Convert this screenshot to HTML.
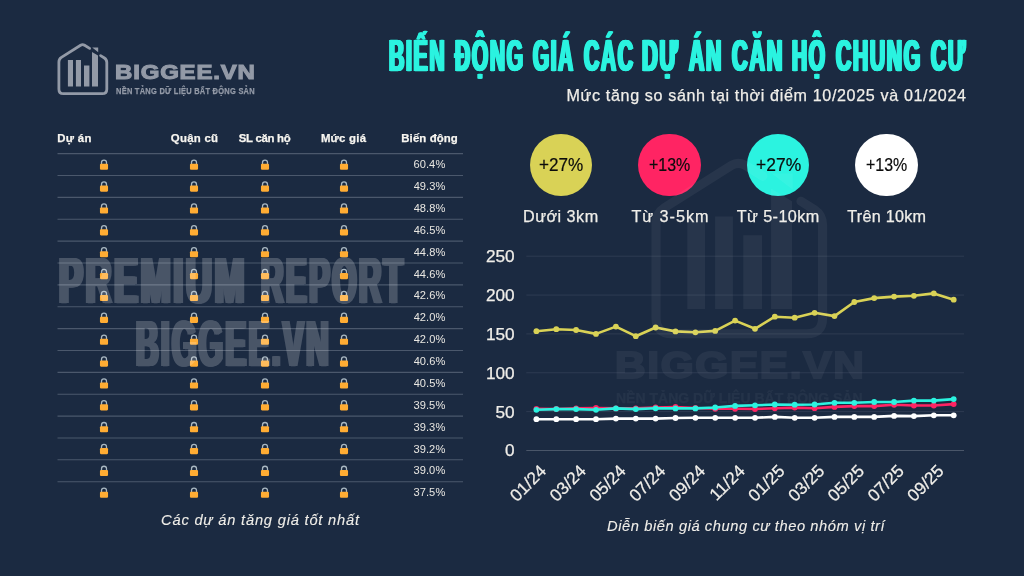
<!DOCTYPE html>
<html lang="vi">
<head>
<meta charset="utf-8">
<title>Biến động giá các dự án căn hộ chung cư</title>
<style>
html,body,header,h1,p,section,div{margin:0;padding:0}
body{width:1024px;height:576px;background:#1b2a41;position:relative;overflow:hidden;font-family:"Liberation Sans",sans-serif;color:#f0eee9}
.abs{position:absolute}
.t{position:absolute;white-space:nowrap;line-height:1;transform-origin:0 0;-webkit-text-stroke:0.25px currentColor}
.circ{position:absolute;width:62.5px;height:62.5px;border-radius:50%;top:133.75px}
.ax text{font-family:"Liberation Sans",sans-serif;font-size:17.2px;fill:#f0eee9;stroke:#f0eee9;stroke-width:0.25px}
</style>
</head>
<body>
<header>
<svg class="abs" style="left:54px;top:40px" width="60.0" height="60.0" viewBox="54 40 60 60">
<path d="M89.6 48.4 L84.6 45.3 Q82.6 44.1 80.6 45.3 L61.4 57.4 Q58.9 59 58.9 62 L58.9 89.2 Q58.9 93.7 63.4 93.7 L102.3 93.7 Q106.8 93.7 106.8 89.2 L106.8 62.5 Q106.8 59.6 104.4 58 L100.6 55.6" fill="none" stroke="#939aa7" stroke-width="2.8" stroke-linecap="round" stroke-linejoin="round"/>
<path d="M67.9 60 H73 V86.6 H67.9 Z M75.9 60 H81 V86.6 H75.9 Z M84 65.4 H89.4 V86.6 H84 Z M92 52 L98 55.6 V86.6 H92 Z M92.2 47.6 H98.2 V52.2 Z" fill="#939aa7"/>
</svg>
<span class="t" style="left:115.31px;top:62.00px;font-size:20.1px;font-weight:bold;color:#939aa7;-webkit-text-stroke:1.1px #939aa7;letter-spacing:0.7px;transform:scaleX(1.1931);">BIGGEE.VN</span>
<span class="t" style="left:115.98px;top:87.00px;font-size:8.9px;font-weight:bold;color:#939aa7;-webkit-text-stroke:0.25px #939aa7;letter-spacing:0.3px;transform:scaleX(0.8421);">NỀN TẢNG DỮ LIỆU BẤT ĐỘNG SẢN</span>
</header>
<h1>
<span class="t" style="left:388.66px;top:34.00px;font-size:44.4px;font-weight:bold;color:#2bf3e0;letter-spacing:3.5px;-webkit-text-stroke:0.5px #2bf3e0;text-shadow:1.5px 0 0 currentColor,-1.5px 0 0 currentColor,2.5px 0 0 currentColor,-2.5px 0 0 currentColor;transform:scaleX(0.4779);">BIẾN</span>
<span class="t" style="left:454.97px;top:34.00px;font-size:44.4px;font-weight:bold;color:#2bf3e0;letter-spacing:3.5px;-webkit-text-stroke:0.5px #2bf3e0;text-shadow:1.5px 0 0 currentColor,-1.5px 0 0 currentColor,2.5px 0 0 currentColor,-2.5px 0 0 currentColor;transform:scaleX(0.4734);">ĐỘNG</span>
<span class="t" style="left:533.15px;top:34.00px;font-size:44.4px;font-weight:bold;color:#2bf3e0;letter-spacing:3.5px;-webkit-text-stroke:0.5px #2bf3e0;text-shadow:1.5px 0 0 currentColor,-1.5px 0 0 currentColor,2.5px 0 0 currentColor,-2.5px 0 0 currentColor;transform:scaleX(0.4670);">GIÁ</span>
<span class="t" style="left:583.66px;top:34.00px;font-size:44.4px;font-weight:bold;color:#2bf3e0;letter-spacing:3.5px;-webkit-text-stroke:0.5px #2bf3e0;text-shadow:1.5px 0 0 currentColor,-1.5px 0 0 currentColor,2.5px 0 0 currentColor,-2.5px 0 0 currentColor;transform:scaleX(0.4751);">CÁC</span>
<span class="t" style="left:642.45px;top:34.00px;font-size:44.4px;font-weight:bold;color:#2bf3e0;letter-spacing:3.5px;-webkit-text-stroke:0.5px #2bf3e0;text-shadow:1.5px 0 0 currentColor,-1.5px 0 0 currentColor,2.5px 0 0 currentColor,-2.5px 0 0 currentColor;transform:scaleX(0.4926);">DỰ</span>
<span class="t" style="left:689.47px;top:34.00px;font-size:44.4px;font-weight:bold;color:#2bf3e0;letter-spacing:3.5px;-webkit-text-stroke:0.5px #2bf3e0;text-shadow:1.5px 0 0 currentColor,-1.5px 0 0 currentColor,2.5px 0 0 currentColor,-2.5px 0 0 currentColor;transform:scaleX(0.4778);">ÁN</span>
<span class="t" style="left:732.07px;top:34.00px;font-size:44.4px;font-weight:bold;color:#2bf3e0;letter-spacing:3.5px;-webkit-text-stroke:0.5px #2bf3e0;text-shadow:1.5px 0 0 currentColor,-1.5px 0 0 currentColor,2.5px 0 0 currentColor,-2.5px 0 0 currentColor;transform:scaleX(0.4879);">CĂN</span>
<span class="t" style="left:792.47px;top:34.00px;font-size:44.4px;font-weight:bold;color:#2bf3e0;letter-spacing:3.5px;-webkit-text-stroke:0.5px #2bf3e0;text-shadow:1.5px 0 0 currentColor,-1.5px 0 0 currentColor,2.5px 0 0 currentColor,-2.5px 0 0 currentColor;transform:scaleX(0.4698);">HỘ</span>
<span class="t" style="left:835.96px;top:34.00px;font-size:44.4px;font-weight:bold;color:#2bf3e0;letter-spacing:3.5px;-webkit-text-stroke:0.5px #2bf3e0;text-shadow:1.5px 0 0 currentColor,-1.5px 0 0 currentColor,2.5px 0 0 currentColor,-2.5px 0 0 currentColor;transform:scaleX(0.4762);">CHUNG</span>
<span class="t" style="left:930.56px;top:34.00px;font-size:44.4px;font-weight:bold;color:#2bf3e0;letter-spacing:3.5px;-webkit-text-stroke:0.5px #2bf3e0;text-shadow:1.5px 0 0 currentColor,-1.5px 0 0 currentColor,2.5px 0 0 currentColor,-2.5px 0 0 currentColor;transform:scaleX(0.4739);">CƯ</span>
</h1>
<p><span class="t" style="left:566.55px;top:87.00px;font-size:16.1px;letter-spacing:0.644px;">Mức tăng so sánh tại thời điểm 10/2025 và 01/2024</span></p>
<section>
<div>
<span class="t" style="left:57.30px;top:133.00px;font-size:11.4px;font-weight:bold;color:#f7f5f0;letter-spacing:0.300px;">Dự án</span>
<span class="t" style="left:170.85px;top:133.00px;font-size:11.4px;font-weight:bold;color:#f7f5f0;letter-spacing:0.258px;">Quận cũ</span>
<span class="t" style="left:238.75px;top:133.00px;font-size:11.4px;font-weight:bold;color:#f7f5f0;letter-spacing:-0.281px;">SL căn hộ</span>
<span class="t" style="left:320.90px;top:133.00px;font-size:11.4px;font-weight:bold;color:#f7f5f0;letter-spacing:0.233px;">Mức giá</span>
<span class="t" style="left:401.30px;top:133.00px;font-size:11.4px;font-weight:bold;color:#f7f5f0;letter-spacing:0.100px;">Biến động</span>
</div>
<svg class="abs" style="left:0;top:0" width="512" height="576" viewBox="0 0 512 576">
<g stroke="#4b586c" stroke-width="1.1"><line x1="57.5" x2="463" y1="153.64" y2="153.64"/><line x1="57.5" x2="463" y1="175.51" y2="175.51"/><line x1="57.5" x2="463" y1="197.38" y2="197.38"/><line x1="57.5" x2="463" y1="219.25" y2="219.25"/><line x1="57.5" x2="463" y1="241.12" y2="241.12"/><line x1="57.5" x2="463" y1="262.99" y2="262.99"/><line x1="57.5" x2="463" y1="284.86" y2="284.86"/><line x1="57.5" x2="463" y1="306.73" y2="306.73"/><line x1="57.5" x2="463" y1="328.60" y2="328.60"/><line x1="57.5" x2="463" y1="350.47" y2="350.47"/><line x1="57.5" x2="463" y1="372.34" y2="372.34"/><line x1="57.5" x2="463" y1="394.21" y2="394.21"/><line x1="57.5" x2="463" y1="416.08" y2="416.08"/><line x1="57.5" x2="463" y1="437.95" y2="437.95"/><line x1="57.5" x2="463" y1="459.82" y2="459.82"/><line x1="57.5" x2="463" y1="481.69" y2="481.69"/></g>
<g transform="translate(104 164.57)"><path d="M-2.5 0V-2A2.5 2.5 0 0 1 2.5 -2V0" fill="none" stroke="#aab8c2" stroke-width="1.3"/><rect x="-4.05" y="-.85" width="8.1" height="6.1" rx="1.1" fill="#ffac33"/></g>
<g transform="translate(194 164.57)"><path d="M-2.5 0V-2A2.5 2.5 0 0 1 2.5 -2V0" fill="none" stroke="#aab8c2" stroke-width="1.3"/><rect x="-4.05" y="-.85" width="8.1" height="6.1" rx="1.1" fill="#ffac33"/></g>
<g transform="translate(265 164.57)"><path d="M-2.5 0V-2A2.5 2.5 0 0 1 2.5 -2V0" fill="none" stroke="#aab8c2" stroke-width="1.3"/><rect x="-4.05" y="-.85" width="8.1" height="6.1" rx="1.1" fill="#ffac33"/></g>
<g transform="translate(344 164.57)"><path d="M-2.5 0V-2A2.5 2.5 0 0 1 2.5 -2V0" fill="none" stroke="#aab8c2" stroke-width="1.3"/><rect x="-4.05" y="-.85" width="8.1" height="6.1" rx="1.1" fill="#ffac33"/></g>
<g transform="translate(104 186.44)"><path d="M-2.5 0V-2A2.5 2.5 0 0 1 2.5 -2V0" fill="none" stroke="#aab8c2" stroke-width="1.3"/><rect x="-4.05" y="-.85" width="8.1" height="6.1" rx="1.1" fill="#ffac33"/></g>
<g transform="translate(194 186.44)"><path d="M-2.5 0V-2A2.5 2.5 0 0 1 2.5 -2V0" fill="none" stroke="#aab8c2" stroke-width="1.3"/><rect x="-4.05" y="-.85" width="8.1" height="6.1" rx="1.1" fill="#ffac33"/></g>
<g transform="translate(265 186.44)"><path d="M-2.5 0V-2A2.5 2.5 0 0 1 2.5 -2V0" fill="none" stroke="#aab8c2" stroke-width="1.3"/><rect x="-4.05" y="-.85" width="8.1" height="6.1" rx="1.1" fill="#ffac33"/></g>
<g transform="translate(344 186.44)"><path d="M-2.5 0V-2A2.5 2.5 0 0 1 2.5 -2V0" fill="none" stroke="#aab8c2" stroke-width="1.3"/><rect x="-4.05" y="-.85" width="8.1" height="6.1" rx="1.1" fill="#ffac33"/></g>
<g transform="translate(104 208.31)"><path d="M-2.5 0V-2A2.5 2.5 0 0 1 2.5 -2V0" fill="none" stroke="#aab8c2" stroke-width="1.3"/><rect x="-4.05" y="-.85" width="8.1" height="6.1" rx="1.1" fill="#ffac33"/></g>
<g transform="translate(194 208.31)"><path d="M-2.5 0V-2A2.5 2.5 0 0 1 2.5 -2V0" fill="none" stroke="#aab8c2" stroke-width="1.3"/><rect x="-4.05" y="-.85" width="8.1" height="6.1" rx="1.1" fill="#ffac33"/></g>
<g transform="translate(265 208.31)"><path d="M-2.5 0V-2A2.5 2.5 0 0 1 2.5 -2V0" fill="none" stroke="#aab8c2" stroke-width="1.3"/><rect x="-4.05" y="-.85" width="8.1" height="6.1" rx="1.1" fill="#ffac33"/></g>
<g transform="translate(344 208.31)"><path d="M-2.5 0V-2A2.5 2.5 0 0 1 2.5 -2V0" fill="none" stroke="#aab8c2" stroke-width="1.3"/><rect x="-4.05" y="-.85" width="8.1" height="6.1" rx="1.1" fill="#ffac33"/></g>
<g transform="translate(104 230.19)"><path d="M-2.5 0V-2A2.5 2.5 0 0 1 2.5 -2V0" fill="none" stroke="#aab8c2" stroke-width="1.3"/><rect x="-4.05" y="-.85" width="8.1" height="6.1" rx="1.1" fill="#ffac33"/></g>
<g transform="translate(194 230.19)"><path d="M-2.5 0V-2A2.5 2.5 0 0 1 2.5 -2V0" fill="none" stroke="#aab8c2" stroke-width="1.3"/><rect x="-4.05" y="-.85" width="8.1" height="6.1" rx="1.1" fill="#ffac33"/></g>
<g transform="translate(265 230.19)"><path d="M-2.5 0V-2A2.5 2.5 0 0 1 2.5 -2V0" fill="none" stroke="#aab8c2" stroke-width="1.3"/><rect x="-4.05" y="-.85" width="8.1" height="6.1" rx="1.1" fill="#ffac33"/></g>
<g transform="translate(344 230.19)"><path d="M-2.5 0V-2A2.5 2.5 0 0 1 2.5 -2V0" fill="none" stroke="#aab8c2" stroke-width="1.3"/><rect x="-4.05" y="-.85" width="8.1" height="6.1" rx="1.1" fill="#ffac33"/></g>
<g transform="translate(104 252.06)"><path d="M-2.5 0V-2A2.5 2.5 0 0 1 2.5 -2V0" fill="none" stroke="#aab8c2" stroke-width="1.3"/><rect x="-4.05" y="-.85" width="8.1" height="6.1" rx="1.1" fill="#ffac33"/></g>
<g transform="translate(194 252.06)"><path d="M-2.5 0V-2A2.5 2.5 0 0 1 2.5 -2V0" fill="none" stroke="#aab8c2" stroke-width="1.3"/><rect x="-4.05" y="-.85" width="8.1" height="6.1" rx="1.1" fill="#ffac33"/></g>
<g transform="translate(265 252.06)"><path d="M-2.5 0V-2A2.5 2.5 0 0 1 2.5 -2V0" fill="none" stroke="#aab8c2" stroke-width="1.3"/><rect x="-4.05" y="-.85" width="8.1" height="6.1" rx="1.1" fill="#ffac33"/></g>
<g transform="translate(344 252.06)"><path d="M-2.5 0V-2A2.5 2.5 0 0 1 2.5 -2V0" fill="none" stroke="#aab8c2" stroke-width="1.3"/><rect x="-4.05" y="-.85" width="8.1" height="6.1" rx="1.1" fill="#ffac33"/></g>
<g transform="translate(104 273.93)"><path d="M-2.5 0V-2A2.5 2.5 0 0 1 2.5 -2V0" fill="none" stroke="#aab8c2" stroke-width="1.3"/><rect x="-4.05" y="-.85" width="8.1" height="6.1" rx="1.1" fill="#ffac33"/></g>
<g transform="translate(194 273.93)"><path d="M-2.5 0V-2A2.5 2.5 0 0 1 2.5 -2V0" fill="none" stroke="#aab8c2" stroke-width="1.3"/><rect x="-4.05" y="-.85" width="8.1" height="6.1" rx="1.1" fill="#ffac33"/></g>
<g transform="translate(265 273.93)"><path d="M-2.5 0V-2A2.5 2.5 0 0 1 2.5 -2V0" fill="none" stroke="#aab8c2" stroke-width="1.3"/><rect x="-4.05" y="-.85" width="8.1" height="6.1" rx="1.1" fill="#ffac33"/></g>
<g transform="translate(344 273.93)"><path d="M-2.5 0V-2A2.5 2.5 0 0 1 2.5 -2V0" fill="none" stroke="#aab8c2" stroke-width="1.3"/><rect x="-4.05" y="-.85" width="8.1" height="6.1" rx="1.1" fill="#ffac33"/></g>
<g transform="translate(104 295.80)"><path d="M-2.5 0V-2A2.5 2.5 0 0 1 2.5 -2V0" fill="none" stroke="#aab8c2" stroke-width="1.3"/><rect x="-4.05" y="-.85" width="8.1" height="6.1" rx="1.1" fill="#ffac33"/></g>
<g transform="translate(194 295.80)"><path d="M-2.5 0V-2A2.5 2.5 0 0 1 2.5 -2V0" fill="none" stroke="#aab8c2" stroke-width="1.3"/><rect x="-4.05" y="-.85" width="8.1" height="6.1" rx="1.1" fill="#ffac33"/></g>
<g transform="translate(265 295.80)"><path d="M-2.5 0V-2A2.5 2.5 0 0 1 2.5 -2V0" fill="none" stroke="#aab8c2" stroke-width="1.3"/><rect x="-4.05" y="-.85" width="8.1" height="6.1" rx="1.1" fill="#ffac33"/></g>
<g transform="translate(344 295.80)"><path d="M-2.5 0V-2A2.5 2.5 0 0 1 2.5 -2V0" fill="none" stroke="#aab8c2" stroke-width="1.3"/><rect x="-4.05" y="-.85" width="8.1" height="6.1" rx="1.1" fill="#ffac33"/></g>
<g transform="translate(104 317.67)"><path d="M-2.5 0V-2A2.5 2.5 0 0 1 2.5 -2V0" fill="none" stroke="#aab8c2" stroke-width="1.3"/><rect x="-4.05" y="-.85" width="8.1" height="6.1" rx="1.1" fill="#ffac33"/></g>
<g transform="translate(194 317.67)"><path d="M-2.5 0V-2A2.5 2.5 0 0 1 2.5 -2V0" fill="none" stroke="#aab8c2" stroke-width="1.3"/><rect x="-4.05" y="-.85" width="8.1" height="6.1" rx="1.1" fill="#ffac33"/></g>
<g transform="translate(265 317.67)"><path d="M-2.5 0V-2A2.5 2.5 0 0 1 2.5 -2V0" fill="none" stroke="#aab8c2" stroke-width="1.3"/><rect x="-4.05" y="-.85" width="8.1" height="6.1" rx="1.1" fill="#ffac33"/></g>
<g transform="translate(344 317.67)"><path d="M-2.5 0V-2A2.5 2.5 0 0 1 2.5 -2V0" fill="none" stroke="#aab8c2" stroke-width="1.3"/><rect x="-4.05" y="-.85" width="8.1" height="6.1" rx="1.1" fill="#ffac33"/></g>
<g transform="translate(104 339.54)"><path d="M-2.5 0V-2A2.5 2.5 0 0 1 2.5 -2V0" fill="none" stroke="#aab8c2" stroke-width="1.3"/><rect x="-4.05" y="-.85" width="8.1" height="6.1" rx="1.1" fill="#ffac33"/></g>
<g transform="translate(194 339.54)"><path d="M-2.5 0V-2A2.5 2.5 0 0 1 2.5 -2V0" fill="none" stroke="#aab8c2" stroke-width="1.3"/><rect x="-4.05" y="-.85" width="8.1" height="6.1" rx="1.1" fill="#ffac33"/></g>
<g transform="translate(265 339.54)"><path d="M-2.5 0V-2A2.5 2.5 0 0 1 2.5 -2V0" fill="none" stroke="#aab8c2" stroke-width="1.3"/><rect x="-4.05" y="-.85" width="8.1" height="6.1" rx="1.1" fill="#ffac33"/></g>
<g transform="translate(344 339.54)"><path d="M-2.5 0V-2A2.5 2.5 0 0 1 2.5 -2V0" fill="none" stroke="#aab8c2" stroke-width="1.3"/><rect x="-4.05" y="-.85" width="8.1" height="6.1" rx="1.1" fill="#ffac33"/></g>
<g transform="translate(104 361.41)"><path d="M-2.5 0V-2A2.5 2.5 0 0 1 2.5 -2V0" fill="none" stroke="#aab8c2" stroke-width="1.3"/><rect x="-4.05" y="-.85" width="8.1" height="6.1" rx="1.1" fill="#ffac33"/></g>
<g transform="translate(194 361.41)"><path d="M-2.5 0V-2A2.5 2.5 0 0 1 2.5 -2V0" fill="none" stroke="#aab8c2" stroke-width="1.3"/><rect x="-4.05" y="-.85" width="8.1" height="6.1" rx="1.1" fill="#ffac33"/></g>
<g transform="translate(265 361.41)"><path d="M-2.5 0V-2A2.5 2.5 0 0 1 2.5 -2V0" fill="none" stroke="#aab8c2" stroke-width="1.3"/><rect x="-4.05" y="-.85" width="8.1" height="6.1" rx="1.1" fill="#ffac33"/></g>
<g transform="translate(344 361.41)"><path d="M-2.5 0V-2A2.5 2.5 0 0 1 2.5 -2V0" fill="none" stroke="#aab8c2" stroke-width="1.3"/><rect x="-4.05" y="-.85" width="8.1" height="6.1" rx="1.1" fill="#ffac33"/></g>
<g transform="translate(104 383.28)"><path d="M-2.5 0V-2A2.5 2.5 0 0 1 2.5 -2V0" fill="none" stroke="#aab8c2" stroke-width="1.3"/><rect x="-4.05" y="-.85" width="8.1" height="6.1" rx="1.1" fill="#ffac33"/></g>
<g transform="translate(194 383.28)"><path d="M-2.5 0V-2A2.5 2.5 0 0 1 2.5 -2V0" fill="none" stroke="#aab8c2" stroke-width="1.3"/><rect x="-4.05" y="-.85" width="8.1" height="6.1" rx="1.1" fill="#ffac33"/></g>
<g transform="translate(265 383.28)"><path d="M-2.5 0V-2A2.5 2.5 0 0 1 2.5 -2V0" fill="none" stroke="#aab8c2" stroke-width="1.3"/><rect x="-4.05" y="-.85" width="8.1" height="6.1" rx="1.1" fill="#ffac33"/></g>
<g transform="translate(344 383.28)"><path d="M-2.5 0V-2A2.5 2.5 0 0 1 2.5 -2V0" fill="none" stroke="#aab8c2" stroke-width="1.3"/><rect x="-4.05" y="-.85" width="8.1" height="6.1" rx="1.1" fill="#ffac33"/></g>
<g transform="translate(104 405.15)"><path d="M-2.5 0V-2A2.5 2.5 0 0 1 2.5 -2V0" fill="none" stroke="#aab8c2" stroke-width="1.3"/><rect x="-4.05" y="-.85" width="8.1" height="6.1" rx="1.1" fill="#ffac33"/></g>
<g transform="translate(194 405.15)"><path d="M-2.5 0V-2A2.5 2.5 0 0 1 2.5 -2V0" fill="none" stroke="#aab8c2" stroke-width="1.3"/><rect x="-4.05" y="-.85" width="8.1" height="6.1" rx="1.1" fill="#ffac33"/></g>
<g transform="translate(265 405.15)"><path d="M-2.5 0V-2A2.5 2.5 0 0 1 2.5 -2V0" fill="none" stroke="#aab8c2" stroke-width="1.3"/><rect x="-4.05" y="-.85" width="8.1" height="6.1" rx="1.1" fill="#ffac33"/></g>
<g transform="translate(344 405.15)"><path d="M-2.5 0V-2A2.5 2.5 0 0 1 2.5 -2V0" fill="none" stroke="#aab8c2" stroke-width="1.3"/><rect x="-4.05" y="-.85" width="8.1" height="6.1" rx="1.1" fill="#ffac33"/></g>
<g transform="translate(104 427.01)"><path d="M-2.5 0V-2A2.5 2.5 0 0 1 2.5 -2V0" fill="none" stroke="#aab8c2" stroke-width="1.3"/><rect x="-4.05" y="-.85" width="8.1" height="6.1" rx="1.1" fill="#ffac33"/></g>
<g transform="translate(194 427.01)"><path d="M-2.5 0V-2A2.5 2.5 0 0 1 2.5 -2V0" fill="none" stroke="#aab8c2" stroke-width="1.3"/><rect x="-4.05" y="-.85" width="8.1" height="6.1" rx="1.1" fill="#ffac33"/></g>
<g transform="translate(265 427.01)"><path d="M-2.5 0V-2A2.5 2.5 0 0 1 2.5 -2V0" fill="none" stroke="#aab8c2" stroke-width="1.3"/><rect x="-4.05" y="-.85" width="8.1" height="6.1" rx="1.1" fill="#ffac33"/></g>
<g transform="translate(344 427.01)"><path d="M-2.5 0V-2A2.5 2.5 0 0 1 2.5 -2V0" fill="none" stroke="#aab8c2" stroke-width="1.3"/><rect x="-4.05" y="-.85" width="8.1" height="6.1" rx="1.1" fill="#ffac33"/></g>
<g transform="translate(104 448.88)"><path d="M-2.5 0V-2A2.5 2.5 0 0 1 2.5 -2V0" fill="none" stroke="#aab8c2" stroke-width="1.3"/><rect x="-4.05" y="-.85" width="8.1" height="6.1" rx="1.1" fill="#ffac33"/></g>
<g transform="translate(194 448.88)"><path d="M-2.5 0V-2A2.5 2.5 0 0 1 2.5 -2V0" fill="none" stroke="#aab8c2" stroke-width="1.3"/><rect x="-4.05" y="-.85" width="8.1" height="6.1" rx="1.1" fill="#ffac33"/></g>
<g transform="translate(265 448.88)"><path d="M-2.5 0V-2A2.5 2.5 0 0 1 2.5 -2V0" fill="none" stroke="#aab8c2" stroke-width="1.3"/><rect x="-4.05" y="-.85" width="8.1" height="6.1" rx="1.1" fill="#ffac33"/></g>
<g transform="translate(344 448.88)"><path d="M-2.5 0V-2A2.5 2.5 0 0 1 2.5 -2V0" fill="none" stroke="#aab8c2" stroke-width="1.3"/><rect x="-4.05" y="-.85" width="8.1" height="6.1" rx="1.1" fill="#ffac33"/></g>
<g transform="translate(104 470.75)"><path d="M-2.5 0V-2A2.5 2.5 0 0 1 2.5 -2V0" fill="none" stroke="#aab8c2" stroke-width="1.3"/><rect x="-4.05" y="-.85" width="8.1" height="6.1" rx="1.1" fill="#ffac33"/></g>
<g transform="translate(194 470.75)"><path d="M-2.5 0V-2A2.5 2.5 0 0 1 2.5 -2V0" fill="none" stroke="#aab8c2" stroke-width="1.3"/><rect x="-4.05" y="-.85" width="8.1" height="6.1" rx="1.1" fill="#ffac33"/></g>
<g transform="translate(265 470.75)"><path d="M-2.5 0V-2A2.5 2.5 0 0 1 2.5 -2V0" fill="none" stroke="#aab8c2" stroke-width="1.3"/><rect x="-4.05" y="-.85" width="8.1" height="6.1" rx="1.1" fill="#ffac33"/></g>
<g transform="translate(344 470.75)"><path d="M-2.5 0V-2A2.5 2.5 0 0 1 2.5 -2V0" fill="none" stroke="#aab8c2" stroke-width="1.3"/><rect x="-4.05" y="-.85" width="8.1" height="6.1" rx="1.1" fill="#ffac33"/></g>
<g transform="translate(104 492.62)"><path d="M-2.5 0V-2A2.5 2.5 0 0 1 2.5 -2V0" fill="none" stroke="#aab8c2" stroke-width="1.3"/><rect x="-4.05" y="-.85" width="8.1" height="6.1" rx="1.1" fill="#ffac33"/></g>
<g transform="translate(194 492.62)"><path d="M-2.5 0V-2A2.5 2.5 0 0 1 2.5 -2V0" fill="none" stroke="#aab8c2" stroke-width="1.3"/><rect x="-4.05" y="-.85" width="8.1" height="6.1" rx="1.1" fill="#ffac33"/></g>
<g transform="translate(265 492.62)"><path d="M-2.5 0V-2A2.5 2.5 0 0 1 2.5 -2V0" fill="none" stroke="#aab8c2" stroke-width="1.3"/><rect x="-4.05" y="-.85" width="8.1" height="6.1" rx="1.1" fill="#ffac33"/></g>
<g transform="translate(344 492.62)"><path d="M-2.5 0V-2A2.5 2.5 0 0 1 2.5 -2V0" fill="none" stroke="#aab8c2" stroke-width="1.3"/><rect x="-4.05" y="-.85" width="8.1" height="6.1" rx="1.1" fill="#ffac33"/></g>
</svg>
<div>
<span class="t" style="left:413.40px;top:159.00px;font-size:11.1px;-webkit-text-stroke:0;color:#e9e7e2;letter-spacing:0.100px;">60.4%</span>
<span class="t" style="left:413.65px;top:181.00px;font-size:11.1px;-webkit-text-stroke:0;color:#e9e7e2;letter-spacing:0.038px;">49.3%</span>
<span class="t" style="left:413.65px;top:203.00px;font-size:11.1px;-webkit-text-stroke:0;color:#e9e7e2;letter-spacing:0.038px;">48.8%</span>
<span class="t" style="left:413.65px;top:225.00px;font-size:11.1px;-webkit-text-stroke:0;color:#e9e7e2;letter-spacing:0.038px;">46.5%</span>
<span class="t" style="left:413.65px;top:247.00px;font-size:11.1px;-webkit-text-stroke:0;color:#e9e7e2;letter-spacing:0.038px;">44.8%</span>
<span class="t" style="left:413.65px;top:269.00px;font-size:11.1px;-webkit-text-stroke:0;color:#e9e7e2;letter-spacing:0.038px;">44.6%</span>
<span class="t" style="left:413.65px;top:290.00px;font-size:11.1px;-webkit-text-stroke:0;color:#e9e7e2;letter-spacing:0.038px;">42.6%</span>
<span class="t" style="left:413.65px;top:312.00px;font-size:11.1px;-webkit-text-stroke:0;color:#e9e7e2;letter-spacing:0.038px;">42.0%</span>
<span class="t" style="left:413.65px;top:334.00px;font-size:11.1px;-webkit-text-stroke:0;color:#e9e7e2;letter-spacing:0.038px;">42.0%</span>
<span class="t" style="left:413.65px;top:356.00px;font-size:11.1px;-webkit-text-stroke:0;color:#e9e7e2;letter-spacing:0.038px;">40.6%</span>
<span class="t" style="left:413.65px;top:378.00px;font-size:11.1px;-webkit-text-stroke:0;color:#e9e7e2;letter-spacing:0.038px;">40.5%</span>
<span class="t" style="left:413.40px;top:400.00px;font-size:11.1px;-webkit-text-stroke:0;color:#e9e7e2;letter-spacing:0.100px;">39.5%</span>
<span class="t" style="left:413.40px;top:422.00px;font-size:11.1px;-webkit-text-stroke:0;color:#e9e7e2;letter-spacing:0.100px;">39.3%</span>
<span class="t" style="left:413.40px;top:444.00px;font-size:11.1px;-webkit-text-stroke:0;color:#e9e7e2;letter-spacing:0.100px;">39.2%</span>
<span class="t" style="left:413.40px;top:465.00px;font-size:11.1px;-webkit-text-stroke:0;color:#e9e7e2;letter-spacing:0.100px;">39.0%</span>
<span class="t" style="left:413.40px;top:487.00px;font-size:11.1px;-webkit-text-stroke:0;color:#e9e7e2;letter-spacing:0.100px;">37.5%</span>
</div>
<div>
<span class="t" style="left:58.61px;top:248.00px;font-size:65.6px;font-weight:bold;color:#fff;letter-spacing:5px;text-shadow:2px 0 0 #fff,-2px 0 0 #fff,4px 0 0 #fff,-4px 0 0 #fff;transform:scaleX(0.5458);opacity:0.2;">PREMIUM</span>
<span class="t" style="left:260.58px;top:248.00px;font-size:65.6px;font-weight:bold;color:#fff;letter-spacing:5px;text-shadow:2px 0 0 #fff,-2px 0 0 #fff,4px 0 0 #fff,-4px 0 0 #fff;transform:scaleX(0.4753);opacity:0.2;">REPORT</span>
<span class="t" style="left:135.58px;top:311.00px;font-size:65.6px;font-weight:bold;color:#fff;letter-spacing:5px;text-shadow:2px 0 0 #fff,-2px 0 0 #fff,4px 0 0 #fff,-4px 0 0 #fff;transform:scaleX(0.4763);opacity:0.2;">BIGGEE.VN</span>
</div>
<p><span class="t" style="left:161.05px;top:513.00px;font-size:14.7px;font-style:italic;-webkit-text-stroke:0.1px currentColor;letter-spacing:0.787px;">Các dự án tăng giá tốt nhất</span></p>
</section>
<section>
<div>
<span class="circ" style="left:529.55px;background:#d9d256"></span>
<span class="t" style="left:538.87px;top:156.00px;font-size:18.4px;color:#0c0c0c;-webkit-text-stroke:0.2px #0c0c0c;transform:scaleX(0.9311);">+27%</span>
<span class="t" style="left:523.05px;top:208.00px;font-size:16.2px;letter-spacing:0.464px;">Dưới 3km</span>
<span class="circ" style="left:638.05px;background:#ff2463"></span>
<span class="t" style="left:649.03px;top:156.00px;font-size:18.4px;color:#0c0c0c;-webkit-text-stroke:0.2px #0c0c0c;transform:scaleX(0.8678);">+13%</span>
<span class="t" style="left:631.50px;top:208.00px;font-size:16.2px;letter-spacing:0.964px;">Từ 3-5km</span>
<span class="circ" style="left:746.75px;background:#2bf3e0"></span>
<span class="t" style="left:755.70px;top:156.00px;font-size:18.4px;color:#0c0c0c;-webkit-text-stroke:0.2px #0c0c0c;transform:scaleX(0.9497);">+27%</span>
<span class="t" style="left:736.75px;top:208.00px;font-size:16.2px;letter-spacing:0.406px;">Từ 5-10km</span>
<span class="circ" style="left:855.05px;background:#ffffff"></span>
<span class="t" style="left:865.78px;top:156.00px;font-size:18.4px;color:#0c0c0c;-webkit-text-stroke:0.2px #0c0c0c;transform:scaleX(0.8678);">+13%</span>
<span class="t" style="left:847.25px;top:208.00px;font-size:16.2px;letter-spacing:0.250px;">Trên 10km</span>
</div>
<svg class="abs" style="left:0;top:0" width="1024" height="576" viewBox="0 0 1024 576">
<line x1="526.3" x2="964" y1="256.2" y2="256.2" stroke="#2e3b52" stroke-width="1"/><line x1="526.3" x2="964" y1="295.06" y2="295.06" stroke="#2e3b52" stroke-width="1"/><line x1="526.3" x2="964" y1="333.92" y2="333.92" stroke="#2e3b52" stroke-width="1"/><line x1="526.3" x2="964" y1="372.78" y2="372.78" stroke="#2e3b52" stroke-width="1"/><line x1="526.3" x2="964" y1="411.64" y2="411.64" stroke="#2e3b52" stroke-width="1"/><line x1="526.3" x2="964" y1="450.5" y2="450.5" stroke="#4a5669" stroke-width="1"/>
<g class="ax"><text x="514.6" y="262.1" text-anchor="end">250</text><text x="514.6" y="301.0" text-anchor="end">200</text><text x="514.6" y="339.8" text-anchor="end">150</text><text x="514.6" y="378.7" text-anchor="end">100</text><text x="514.6" y="417.5" text-anchor="end">50</text><text x="514.6" y="456.4" text-anchor="end">0</text></g>
<g class="ax"><text transform="translate(538.9,463.5) rotate(-45)" text-anchor="end" dy="12">01/24</text><text transform="translate(578.6,463.5) rotate(-45)" text-anchor="end" dy="12">03/24</text><text transform="translate(618.4,463.5) rotate(-45)" text-anchor="end" dy="12">05/24</text><text transform="translate(658.1,463.5) rotate(-45)" text-anchor="end" dy="12">07/24</text><text transform="translate(697.9,463.5) rotate(-45)" text-anchor="end" dy="12">09/24</text><text transform="translate(737.6,463.5) rotate(-45)" text-anchor="end" dy="12">11/24</text><text transform="translate(777.3,463.5) rotate(-45)" text-anchor="end" dy="12">01/25</text><text transform="translate(817.1,463.5) rotate(-45)" text-anchor="end" dy="12">03/25</text><text transform="translate(856.8,463.5) rotate(-45)" text-anchor="end" dy="12">05/25</text><text transform="translate(896.6,463.5) rotate(-45)" text-anchor="end" dy="12">07/25</text><text transform="translate(936.3,463.5) rotate(-45)" text-anchor="end" dy="12">09/25</text></g>
<polyline points="536.4,331.2 556.3,329.2 576.1,330.0 596.0,333.9 615.9,326.6 635.8,336.2 655.6,327.5 675.5,331.4 695.4,332.3 715.2,330.9 735.1,320.6 755.0,328.8 774.8,316.7 794.7,317.7 814.6,312.8 834.5,316.1 854.3,302.0 874.2,298.1 894.1,296.6 913.9,295.8 933.8,293.4 953.7,299.7" fill="none" stroke="#d9d256" stroke-width="2.6" stroke-linejoin="round" stroke-linecap="round"/><g fill="#d9d256"><circle cx="536.4" cy="331.2" r="2.9"/><circle cx="556.3" cy="329.2" r="2.9"/><circle cx="576.1" cy="330.0" r="2.9"/><circle cx="596.0" cy="333.9" r="2.9"/><circle cx="615.9" cy="326.6" r="2.9"/><circle cx="635.8" cy="336.2" r="2.9"/><circle cx="655.6" cy="327.5" r="2.9"/><circle cx="675.5" cy="331.4" r="2.9"/><circle cx="695.4" cy="332.3" r="2.9"/><circle cx="715.2" cy="330.9" r="2.9"/><circle cx="735.1" cy="320.6" r="2.9"/><circle cx="755.0" cy="328.8" r="2.9"/><circle cx="774.8" cy="316.7" r="2.9"/><circle cx="794.7" cy="317.7" r="2.9"/><circle cx="814.6" cy="312.8" r="2.9"/><circle cx="834.5" cy="316.1" r="2.9"/><circle cx="854.3" cy="302.0" r="2.9"/><circle cx="874.2" cy="298.1" r="2.9"/><circle cx="894.1" cy="296.6" r="2.9"/><circle cx="913.9" cy="295.8" r="2.9"/><circle cx="933.8" cy="293.4" r="2.9"/><circle cx="953.7" cy="299.7" r="2.9"/></g>
<polyline points="536.4,408.9 556.3,409.0 576.1,408.3 596.0,408.0 615.9,408.4 635.8,408.4 655.6,407.5 675.5,407.0 695.4,408.0 715.2,408.8 735.1,408.8 755.0,409.0 774.8,408.3 794.7,407.6 814.6,408.2 834.5,406.9 854.3,406.1 874.2,406.1 894.1,404.8 913.9,405.5 933.8,405.5 953.7,404.1" fill="none" stroke="#ff2463" stroke-width="2.6" stroke-linejoin="round" stroke-linecap="round"/><g fill="#ff2463"><circle cx="536.4" cy="408.9" r="2.9"/><circle cx="556.3" cy="409.0" r="2.9"/><circle cx="576.1" cy="408.3" r="2.9"/><circle cx="596.0" cy="408.0" r="2.9"/><circle cx="615.9" cy="408.4" r="2.9"/><circle cx="635.8" cy="408.4" r="2.9"/><circle cx="655.6" cy="407.5" r="2.9"/><circle cx="675.5" cy="407.0" r="2.9"/><circle cx="695.4" cy="408.0" r="2.9"/><circle cx="715.2" cy="408.8" r="2.9"/><circle cx="735.1" cy="408.8" r="2.9"/><circle cx="755.0" cy="409.0" r="2.9"/><circle cx="774.8" cy="408.3" r="2.9"/><circle cx="794.7" cy="407.6" r="2.9"/><circle cx="814.6" cy="408.2" r="2.9"/><circle cx="834.5" cy="406.9" r="2.9"/><circle cx="854.3" cy="406.1" r="2.9"/><circle cx="874.2" cy="406.1" r="2.9"/><circle cx="894.1" cy="404.8" r="2.9"/><circle cx="913.9" cy="405.5" r="2.9"/><circle cx="933.8" cy="405.5" r="2.9"/><circle cx="953.7" cy="404.1" r="2.9"/></g>
<polyline points="536.4,409.8 556.3,409.1 576.1,409.1 596.0,409.8 615.9,408.4 635.8,409.1 655.6,408.3 675.5,408.4 695.4,408.4 715.2,407.5 735.1,405.9 755.0,405.3 774.8,404.5 794.7,404.7 814.6,404.5 834.5,402.8 854.3,402.8 874.2,402.0 894.1,402.0 913.9,400.6 933.8,400.6 953.7,399.1" fill="none" stroke="#2bf3e0" stroke-width="2.6" stroke-linejoin="round" stroke-linecap="round"/><g fill="#2bf3e0"><circle cx="536.4" cy="409.8" r="2.9"/><circle cx="556.3" cy="409.1" r="2.9"/><circle cx="576.1" cy="409.1" r="2.9"/><circle cx="596.0" cy="409.8" r="2.9"/><circle cx="615.9" cy="408.4" r="2.9"/><circle cx="635.8" cy="409.1" r="2.9"/><circle cx="655.6" cy="408.3" r="2.9"/><circle cx="675.5" cy="408.4" r="2.9"/><circle cx="695.4" cy="408.4" r="2.9"/><circle cx="715.2" cy="407.5" r="2.9"/><circle cx="735.1" cy="405.9" r="2.9"/><circle cx="755.0" cy="405.3" r="2.9"/><circle cx="774.8" cy="404.5" r="2.9"/><circle cx="794.7" cy="404.7" r="2.9"/><circle cx="814.6" cy="404.5" r="2.9"/><circle cx="834.5" cy="402.8" r="2.9"/><circle cx="854.3" cy="402.8" r="2.9"/><circle cx="874.2" cy="402.0" r="2.9"/><circle cx="894.1" cy="402.0" r="2.9"/><circle cx="913.9" cy="400.6" r="2.9"/><circle cx="933.8" cy="400.6" r="2.9"/><circle cx="953.7" cy="399.1" r="2.9"/></g>
<polyline points="536.4,419.2 556.3,419.2 576.1,419.2 596.0,419.2 615.9,418.6 635.8,418.6 655.6,418.6 675.5,418.0 695.4,417.8 715.2,417.8 735.1,417.8 755.0,417.8 774.8,416.9 794.7,417.8 814.6,417.8 834.5,416.9 854.3,416.9 874.2,416.9 894.1,415.9 913.9,416.1 933.8,415.3 953.7,415.3" fill="none" stroke="#ffffff" stroke-width="2.6" stroke-linejoin="round" stroke-linecap="round"/><g fill="#ffffff"><circle cx="536.4" cy="419.2" r="2.9"/><circle cx="556.3" cy="419.2" r="2.9"/><circle cx="576.1" cy="419.2" r="2.9"/><circle cx="596.0" cy="419.2" r="2.9"/><circle cx="615.9" cy="418.6" r="2.9"/><circle cx="635.8" cy="418.6" r="2.9"/><circle cx="655.6" cy="418.6" r="2.9"/><circle cx="675.5" cy="418.0" r="2.9"/><circle cx="695.4" cy="417.8" r="2.9"/><circle cx="715.2" cy="417.8" r="2.9"/><circle cx="735.1" cy="417.8" r="2.9"/><circle cx="755.0" cy="417.8" r="2.9"/><circle cx="774.8" cy="416.9" r="2.9"/><circle cx="794.7" cy="417.8" r="2.9"/><circle cx="814.6" cy="417.8" r="2.9"/><circle cx="834.5" cy="416.9" r="2.9"/><circle cx="854.3" cy="416.9" r="2.9"/><circle cx="874.2" cy="416.9" r="2.9"/><circle cx="894.1" cy="415.9" r="2.9"/><circle cx="913.9" cy="416.1" r="2.9"/><circle cx="933.8" cy="415.3" r="2.9"/><circle cx="953.7" cy="415.3" r="2.9"/></g>
</svg>
<p><span class="t" style="left:607.05px;top:519.00px;font-size:14.7px;font-style:italic;-webkit-text-stroke:0.1px currentColor;letter-spacing:0.571px;">Diễn biến giá chung cư theo nhóm vị trí</span></p>
<div>
<svg class="abs" style="left:639.0px;top:147.2px;opacity:0.05" width="208.6" height="208.6" viewBox="54 40 60 60">
<path d="M89.6 48.4 L84.6 45.3 Q82.6 44.1 80.6 45.3 L61.4 57.4 Q58.9 59 58.9 62 L58.9 89.2 Q58.9 93.7 63.4 93.7 L102.3 93.7 Q106.8 93.7 106.8 89.2 L106.8 62.5 Q106.8 59.6 104.4 58 L100.6 55.6" fill="none" stroke="#ffffff" stroke-width="2.62" stroke-linecap="round" stroke-linejoin="round"/>
<path d="M67.9 60 H73 V86.6 H67.9 Z M75.9 60 H81 V86.6 H75.9 Z M84 65.4 H89.4 V86.6 H84 Z M92 52 L98 55.6 V86.6 H92 Z M92.2 47.6 H98.2 V52.2 Z" fill="#ffffff"/>
</svg>
<span class="t" style="left:614.81px;top:347.00px;font-size:37.5px;font-weight:bold;color:#fff;-webkit-text-stroke:2px #fff;letter-spacing:1.5px;transform:scaleX(1.1287);opacity:0.05;">BIGGEE.VN</span>
<span class="t" style="left:616.32px;top:390.00px;font-size:15.4px;font-weight:bold;color:#fff;transform:scaleX(0.9099);opacity:0.04;">NỀN TẢNG DỮ LIỆU BẤT ĐỘNG SẢN</span>
</div>
</section>
</body>
</html>
